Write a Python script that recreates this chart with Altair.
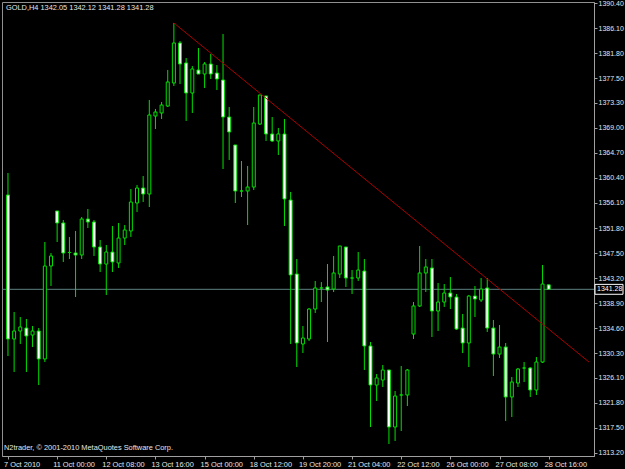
import altair as alt
import pandas as pd

# ---------------- data ----------------
opens = [1357.46, 1332.76, 1334.13, 1334.64, 1333.44, 1334.13, 1329.33, 1345.28, 1354.72, 1352.66,
         1347.60, 1347.51, 1347.17, 1353.34, 1352.83, 1348.54, 1345.62, 1347.68, 1345.80, 1350.08,
         1351.29, 1356.09, 1358.66, 1357.63, 1371.01, 1371.53, 1372.73, 1376.68, 1383.54, 1380.11,
         1374.96, 1378.91, 1378.22, 1379.94, 1378.39, 1377.19, 1370.84, 1366.04, 1358.15, 1358.15,
         1358.83, 1369.64, 1374.45, 1367.93, 1366.73, 1367.93, 1356.60, 1343.91, 1331.90, 1332.76,
         1337.90, 1341.51, 1341.68, 1341.33, 1343.91, 1348.54, 1343.22, 1343.22, 1344.42, 1331.56,
         1324.86, 1325.72, 1327.44, 1317.66, 1323.15, 1323.15, 1333.61, 1338.42, 1344.08, 1344.94,
         1337.56, 1339.10, 1340.65, 1339.96, 1334.64, 1332.07, 1340.13, 1339.45, 1341.51, 1334.64,
         1330.18, 1331.38, 1322.81, 1325.21, 1327.78, 1327.78, 1324.01, 1328.81, 1342.05]
highs = [1361.24, 1337.39, 1336.53, 1336.19, 1334.99, 1334.64, 1349.40, 1347.51, 1354.72, 1353.17,
         1350.26, 1351.29, 1353.69, 1355.06, 1353.17, 1349.74, 1348.88, 1352.14, 1352.66, 1352.31,
         1358.49, 1359.18, 1360.72, 1373.76, 1372.22, 1373.42, 1378.91, 1386.97, 1383.88, 1380.96,
         1379.59, 1382.68, 1380.28, 1381.65, 1379.76, 1385.08, 1372.56, 1366.04, 1363.29, 1362.44,
         1372.56, 1374.62, 1374.45, 1370.84, 1368.96, 1370.50, 1357.98, 1346.48, 1334.99, 1338.08,
         1342.71, 1342.53, 1345.62, 1347.00, 1348.71, 1348.54, 1344.59, 1347.68, 1346.48, 1332.24,
         1326.75, 1328.30, 1327.44, 1323.84, 1328.12, 1327.61, 1339.10, 1348.71, 1346.48, 1346.48,
         1342.36, 1342.19, 1343.39, 1340.48, 1337.05, 1340.31, 1341.85, 1343.22, 1343.22, 1336.02,
         1335.16, 1332.07, 1326.24, 1327.78, 1328.81, 1327.95, 1329.67, 1345.45, 1342.12]
lows = [1329.84, 1327.10, 1331.90, 1327.10, 1331.38, 1324.86, 1328.81, 1341.85, 1349.40, 1345.97,
        1346.48, 1339.96, 1346.48, 1351.80, 1347.00, 1344.25, 1340.31, 1344.25, 1344.94, 1348.88,
        1350.26, 1354.54, 1356.26, 1355.40, 1368.78, 1370.50, 1372.56, 1376.16, 1376.50, 1370.16,
        1371.53, 1378.22, 1375.82, 1377.36, 1375.47, 1361.92, 1363.47, 1356.09, 1357.12, 1352.31,
        1358.32, 1369.47, 1366.73, 1366.55, 1364.32, 1352.14, 1331.90, 1327.95, 1330.35, 1332.41,
        1337.22, 1339.10, 1332.24, 1340.82, 1343.22, 1341.68, 1340.48, 1342.71, 1327.44, 1317.66,
        1322.12, 1324.52, 1314.74, 1315.26, 1316.97, 1321.26, 1332.76, 1338.25, 1340.82, 1333.10,
        1334.13, 1338.25, 1337.90, 1334.30, 1330.35, 1327.95, 1336.53, 1339.10, 1333.96, 1326.41,
        1329.50, 1318.69, 1319.37, 1324.52, 1325.38, 1322.81, 1323.15, 1328.64, 1341.28]
closes = [1332.76, 1334.13, 1334.82, 1333.27, 1334.13, 1329.33, 1345.28, 1347.00, 1352.66, 1347.51,
          1347.60, 1347.17, 1353.34, 1352.83, 1348.54, 1345.62, 1347.68, 1345.97, 1350.08, 1351.46,
          1356.26, 1358.66, 1357.63, 1371.19, 1371.70, 1372.90, 1376.85, 1383.54, 1379.94, 1374.96,
          1379.08, 1378.22, 1379.94, 1378.22, 1377.36, 1370.84, 1368.27, 1358.15, 1358.15, 1358.83,
          1369.81, 1374.62, 1367.93, 1366.73, 1367.93, 1356.78, 1343.74, 1332.07, 1332.93, 1337.90,
          1341.51, 1341.51, 1341.16, 1344.08, 1348.71, 1343.22, 1343.22, 1344.59, 1331.56, 1324.86,
          1326.07, 1327.44, 1317.66, 1322.98, 1323.15, 1327.44, 1338.42, 1344.08, 1345.11, 1337.56,
          1339.10, 1340.65, 1339.96, 1334.47, 1332.07, 1340.13, 1339.62, 1341.33, 1334.64, 1330.18,
          1331.38, 1322.81, 1325.38, 1327.61, 1327.78, 1324.01, 1328.81, 1342.19, 1341.28]
bar_index = list(range(len(opens)))

date_labels = ["7 Oct 2010", "11 Oct 00:00", "12 Oct 08:00", "13 Oct 16:00", "15 Oct 00:00",
               "18 Oct 12:00", "19 Oct 20:00", "21 Oct 04:00", "22 Oct 12:00", "26 Oct 00:00",
               "27 Oct 08:00", "28 Oct 16:00"]
date_ticks = [0, 8, 16, 24, 32, 40, 48, 56, 64, 72, 80, 88]
price_ticks = [1390.40, 1386.10, 1381.80, 1377.50, 1373.30, 1369.00, 1364.70, 1360.40, 1356.10,
               1351.80, 1347.50, 1343.20, 1338.90, 1334.60, 1330.30, 1326.10, 1321.80, 1317.50, 1313.20]

trend_i = [27, 94.56]
trend_p = [1386.97, 1328.80]

bid = closes[-1]
symbol = "GOLD,H4"
copyright_text = "N2trader, \u00a9 2001-2010 MetaQuotes Software Corp."

# ---------------- styling ----------------
GREEN = "#00e000"
FONT = "Liberation Sans"
FS = 7.4
FSY = 7.0
TXT = "#e6e6e6"
AXC = "#a0a0a0"
W, H = 592, 454

xs = alt.Scale(domain=[-0.16, 94.56], nice=False, zero=False)
ys = alt.Scale(domain=[1312.685, 1390.572], nice=False, zero=False)

df = pd.DataFrame({"i": bar_index, "open": opens, "high": highs, "low": lows, "close": closes})

label_expr = "[" + ",".join("'%s'" % s for s in date_labels) + "][round(datum.value / 8)]"

x_axis = alt.Axis(values=date_ticks, labelExpr=label_expr, labelAlign="left", labelBaseline="top",
                  labelPadding=1, labelOffset=-4.5, tickSize=3, grid=False, title=None,
                  labelOverlap=False, labelFlush=False, labelFont=FONT,
                  labelFontSize=FS, labelColor=TXT, tickColor=AXC, domainColor=AXC)
y_axis = alt.Axis(orient="right", values=price_ticks, format=".2f", tickSize=3, labelPadding=1,
                  grid=False, title=None, labelOverlap=False, labelFlush=False,
                  labelFont=FONT, labelFontSize=FSY, labelColor=TXT, tickColor=AXC, domainColor=AXC)


def X(field):
    return alt.X(field, scale=xs, axis=x_axis)


def Y(field):
    return alt.Y(field, scale=ys, axis=y_axis)


base = alt.Chart(df)

wicks = base.mark_rule(color=GREEN, strokeWidth=1).encode(
    x=X("i:Q"), y=Y("low:Q"), y2="high:Q")

bodies = base.mark_bar(width=3, stroke=GREEN, strokeWidth=1).encode(
    x=X("i:Q"), y=Y("open:Q"), y2="close:Q",
    fill=alt.condition("datum.close >= datum.open", alt.value("#000000"), alt.value("#ffffff")),
)

bid_df = pd.DataFrame({"p": [bid], "lab": ["%.2f" % bid], "hi": [bid + 0.85], "lo": [bid - 0.85]})
bid_line = alt.Chart(bid_df).mark_rule(color="#5f8080", strokeWidth=1).encode(y=Y("p:Q"))
bid_box = alt.Chart(bid_df).mark_rect(fill="#000000", stroke="#ffffff", strokeWidth=1, clip=False).encode(
    x=alt.value(W + 1), x2=alt.value(W + 29), y=Y("hi:Q"), y2="lo:Q")
bid_text = alt.Chart(bid_df).mark_text(align="left", baseline="middle", font=FONT, fontSize=FSY,
                                       color="#ffffff", clip=False).encode(
    x=alt.value(W + 3), y=Y("p:Q"), text="lab:N")

trend_df = pd.DataFrame({"i": trend_i, "p": trend_p})
trend = alt.Chart(trend_df).mark_line(color="#a80000", strokeWidth=1, clip=True).encode(
    x=X("i:Q"), y=Y("p:Q"))

header = "%s  %.2f %.2f %.2f %.2f" % (symbol, opens[-1], highs[-1], lows[-1], closes[-1])
head_text = alt.Chart(pd.DataFrame({"t": [header]})).mark_text(
    align="left", baseline="middle", font=FONT, fontSize=FS, color=TXT).encode(
    x=alt.value(4), y=alt.value(6), text="t:N")
copy_text = alt.Chart(pd.DataFrame({"t": [copyright_text]})).mark_text(
    align="left", baseline="middle", font=FONT, fontSize=FS, color=TXT).encode(
    x=alt.value(2), y=alt.value(446), text="t:N")

chart = alt.layer(bid_line, wicks, bodies, trend, bid_box, bid_text, head_text, copy_text).properties(
    width=W, height=H,
    autosize=alt.AutoSizeParams(type="none"),
    padding={"left": 2, "top": 2, "right": 31, "bottom": 13},
    background="#000000",
).configure_view(stroke="#909090", strokeWidth=1)

emb = {"renderer": "svg", "actions": False}
try:
    import jinja2
    html = chart.to_html(embed_options=emb)
    html = html.replace("<style>", "<style>\n    body { margin: 0; background: #000; overflow: hidden; }", 1)
    tpl = jinja2.Template("{% raw %}" + html + "{% endraw %}")
    chart.save("out.html", embed_options=emb, template=tpl)
except Exception:
    chart.save("out.html", embed_options=emb)
